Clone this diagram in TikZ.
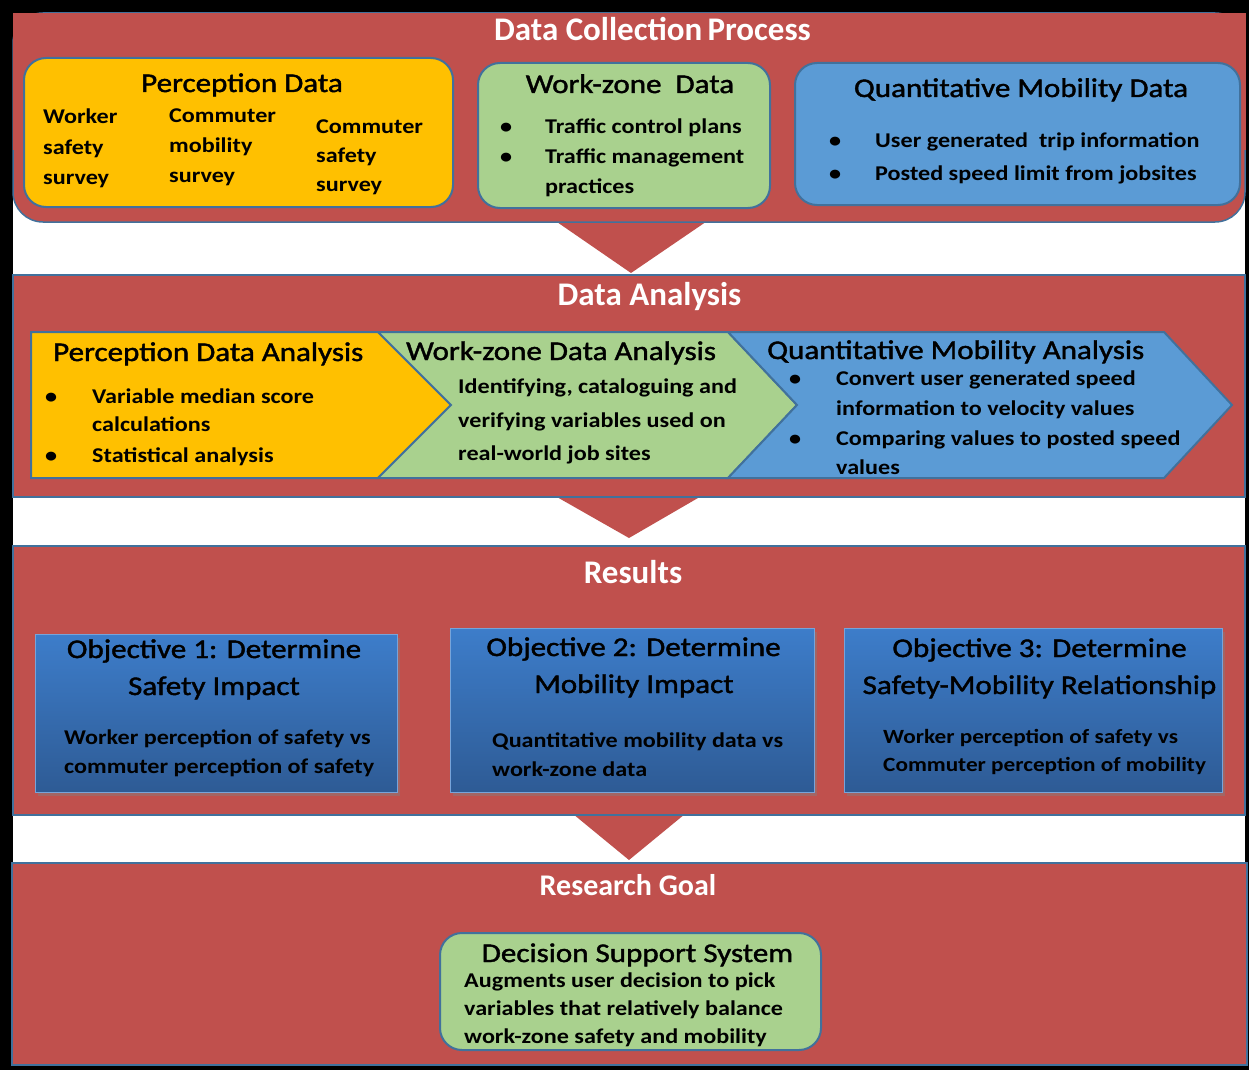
\documentclass[tikz,border=0pt]{standalone}
\usepackage{fontspec}
\setmainfont{Carlito}
\newfontfamily\cf{Carlito}[FakeStretch=1.15]
\newfontfamily\cft{Carlito}[FakeStretch=1.15,FakeBold=1.5]
\usetikzlibrary{shadows}
\definecolor{pred}{HTML}{C0504D}
\definecolor{orng}{HTML}{FFC000}
\definecolor{grn}{HTML}{A9D18E}
\definecolor{blu}{HTML}{5B9BD5}
\definecolor{edge}{HTML}{41719C}
\definecolor{objtop}{HTML}{3D7DCA}
\definecolor{objbot}{HTML}{2E5B95}
\tikzset{
  panel/.style={fill=pred, draw=edge, line width=1.5pt, inner sep=0pt, outer sep=0pt},
  box/.style={draw=edge, line width=2pt, inner sep=0pt, outer sep=0pt},
  objbox/.style={draw=objtop!70!white, line width=0.8pt, top color=objtop, bottom color=objbot,
    inner sep=0pt, drop shadow={opacity=0.45, shadow xshift=3pt, shadow yshift=-4pt}},
  ptitle/.style={text=white, font=\bfseries\fontsize{33}{40}\selectfont, anchor=base, inner sep=0pt},
  btitle/.style={text=black, font=\cft\fontsize{27}{32}\selectfont, anchor=base, inner sep=0pt},
  btitlew/.style={btitle, anchor=base west},
  body/.style={text=black, font=\cf\bfseries\fontsize{21}{25}\selectfont, anchor=base west, inner sep=0pt},
  bodys/.style={body, font=\cf\bfseries\fontsize{20.2}{25}\selectfont},
  arrowtri/.style={fill=pred},
}
\newcommand\bodyline[4]{\node[body] (#1) at (#2,#3) {#4};}
\begin{document}
\begin{tikzpicture}[x=1pt,y=-1pt]
\useasboundingbox (0,0) rectangle (1249,1070);
\fill[black] (0,0) rectangle (1249,1070);
\fill[white] (13,13) rectangle (1245,1065);

% ---------- Panel 1 ----------
\fill[arrowtri] (525,200) -- (738,200) -- (631,273) -- cycle;
\node[panel, rounded corners=30pt, minimum width=1232, minimum height=209] (p1) at (629,117.5) {};
\fill[pred] (13,13) rectangle (1245.75,150);
\node[ptitle] (t1) at (652.5,41) {Data Collection\hspace{-0.07em} Process};

\node[box, fill=orng, rounded corners=22pt, minimum width=429, minimum height=149] (pd) at (238.5,132.5) {};
\node[btitle] (pdt) at (242,92) {Perception Data};
\bodyline{c1a}{43}{124}{Worker}
\bodyline{c1b}{43}{154}{safety}
\bodyline{c1c}{43}{184}{survey}
\bodyline{c2a}{169}{123}{Commuter}
\bodyline{c2b}{169}{152}{mobility}
\bodyline{c2c}{169}{182}{survey}
\bodyline{c3a}{316}{133}{Commuter}
\bodyline{c3b}{316}{162}{safety}
\bodyline{c3c}{316}{191}{survey}

\node[box, fill=grn, rounded corners=22pt, minimum width=292, minimum height=145] (wz) at (624,135.5) {};
\node[btitle] (wzt) at (630,93) {Work-zone\ \ Data};
\bodyline{wzb1}{500}{133}{•}
\bodyline{wzb2}{500}{163}{•}
\bodyline{wz1}{545}{133}{Traffic control plans}
\bodyline{wz2}{545}{163}{Traffic management}
\bodyline{wz3}{545}{193}{practices}

\node[box, fill=blu, rounded corners=22pt, minimum width=445, minimum height=142] (qm) at (1017.5,134) {};
\node[btitle] (qmt) at (1021,97) {Quantitative Mobility Data};
\bodyline{qmb1}{829}{147}{•}
\bodyline{qmb2}{829}{180}{•}
\bodyline{qm1}{875}{147}{User generated\ \ trip information}
\bodyline{qm2}{875}{180}{Posted speed limit from jobsites}

% ---------- Panel 2 ----------
\fill[arrowtri] (527,480) -- (729,480) -- (629,538) -- cycle;
\node[panel, minimum width=1232, minimum height=222] (p2) at (629,386) {};
\node[ptitle] (t2) at (649.5,305) {Data Analysis};

\filldraw[fill=orng, draw=edge, line width=2pt] (31,332) -- (378,332) -- (451,405) -- (378,478) -- (31,478) -- cycle;
\filldraw[fill=grn, draw=edge, line width=2pt] (378,332) -- (728,332) -- (797,405) -- (728,478) -- (378,478) -- (451,405) -- cycle;
\filldraw[fill=blu, draw=edge, line width=2pt] (728,332) -- (1164,332) -- (1232,405) -- (1164,478) -- (728,478) -- (797,405) -- cycle;

\node[btitlew] (pat) at (53,361) {Perception Data Analysis};
\bodyline{pab1}{45}{403}{•}
\bodyline{pab2}{45}{462}{•}
\bodyline{pa1}{92}{403}{Variable median score}
\bodyline{pa2}{92}{431}{calculations}
\bodyline{pa3}{92}{462}{Statistical analysis}

\node[btitlew] (wat) at (406,360) {Work-zone Data Analysis};
\bodyline{wa1}{458}{393}{Identifying, cataloguing and}
\bodyline{wa2}{458}{427}{verifying variables used on}
\bodyline{wa3}{458}{460}{real-world job sites}

\node[btitlew] (qat) at (767,359) {Quantitative Mobility Analysis};
\bodyline{qab1}{789}{385}{•}
\bodyline{qab2}{789}{445}{•}
\bodyline{qa1}{836}{385}{Convert user generated speed}
\bodyline{qa2}{836}{415}{information to velocity values}
\bodyline{qa3}{836}{445}{Comparing values to posted speed}
\bodyline{qa4}{836}{474}{values}

% ---------- Panel 3 ----------
\fill[arrowtri] (556,800) -- (702,800) -- (629,860) -- cycle;
\node[panel, minimum width=1232, minimum height=269] (p3) at (629,680.5) {};
\node[ptitle] (t3) at (633,583) {Results};

\node[objbox, minimum width=362, minimum height=158] (o1) at (216,713) {};
\node[btitle] (o1t1) at (214,658) {Objective 1: Determine};
\node[btitle] (o1t2) at (214,695) {Safety Impact};
\bodyline{o1a}{64}{744}{Worker perception of safety vs}
\bodyline{o1b}{64}{773}{commuter perception of safety}

\node[objbox, minimum width=364, minimum height=164] (o2) at (632,710) {};
\node[btitle] (o2t1) at (633.5,656) {Objective 2: Determine};
\node[btitle] (o2t2) at (634,693) {Mobility Impact};
\bodyline{o2a}{492}{747}{Quantitative mobility data vs}
\bodyline{o2b}{492}{776}{work-zone data}

\node[objbox, minimum width=378, minimum height=164] (o3) at (1033,710) {};
\node[btitle] (o3t1) at (1039.5,657) {Objective 3: Determine};
\node[btitle] (o3t2) at (1039.5,694) {Safety-Mobility Relationship};
\node[bodys] (o3a) at (883,743) {Worker perception of safety vs};
\node[bodys] (o3b) at (883,771) {Commuter perception of mobility};

% ---------- Panel 4 ----------
\node[panel, minimum width=1235, minimum height=202] (p4) at (629.5,964) {};
\node[ptitle, font=\bfseries\fontsize{30}{36}\selectfont] (t4) at (628,895) {Research Goal};

\node[box, fill=grn, rounded corners=22pt, minimum width=381, minimum height=117] (ds) at (630.5,991.5) {};
\node[btitle] (dst) at (637.5,962) {Decision Support System};
\bodyline{ds1}{464}{987}{Augments user decision to pick}
\bodyline{ds2}{464}{1015}{variables that relatively balance}
\bodyline{ds3}{464}{1043}{work-zone safety and mobility}
\end{tikzpicture}
\end{document}
